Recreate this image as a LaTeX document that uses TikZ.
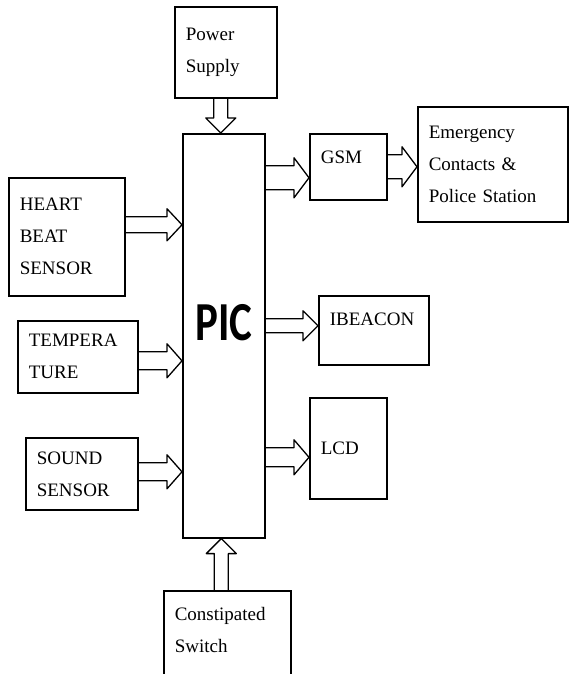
\documentclass[tikz,border=0pt]{standalone}
\usepackage{fontspec}
\setmainfont{Liberation Serif}
\newfontfamily\picfont{Carlito}[FakeStretch=0.78]
\usetikzlibrary{arrows.meta, calc}

\begin{document}
\begin{tikzpicture}[
    x=1pt, y=-1pt,
    block/.style={draw, line width=1.6pt, anchor=north west, align=left,
        inner xsep=11pt, inner ysep=0pt, font=\fontsize{19}{32}\selectfont},
    hollow/.style={line width=1.3pt, line join=round, to path={
        ($(\tikztostart)!#1!90:(\tikztotarget)$)
        -- ($(\tikztotarget)!15pt!(\tikztostart)!#1!-90:(\tikztostart)$)
        -- ($(\tikztotarget)!15pt!(\tikztostart)!#1+8pt!-90:(\tikztostart)$)
        -- (\tikztotarget)
        -- ($(\tikztotarget)!15pt!(\tikztostart)!#1+8pt!90:(\tikztostart)$)
        -- ($(\tikztotarget)!15pt!(\tikztostart)!#1!90:(\tikztostart)$)
        -- ($(\tikztostart)!#1!-90:(\tikztotarget)$)}},
    hollow/.default=8pt,
]
\useasboundingbox (0,0) rectangle (568,674);

% controller in the middle
\node[block, minimum width=82pt, minimum height=404pt, text width=60pt, align=center,
    font=\picfont\bfseries\fontsize{55}{55}\selectfont, text depth=26pt] (pic) at (182,133) {PIC};

% inputs
\node[block, text width=80pt, minimum height=91pt] (power) at (174,6) {Power\\Supply};
\node[block, text width=94pt, minimum height=118pt] (heart) at (8,177) {HEART\\BEAT\\SENSOR};
\node[block, text width=98pt, minimum height=72pt] (temp) at (17,320) {TEMPERA\\TURE};
\node[block, text width=90pt, minimum height=72pt] (sound) at (25,437) {SOUND\\SENSOR};
\node[block, text width=105pt, minimum height=92pt, text depth=46pt] (switch) at (163,590) {Constipated\\Switch};

% outputs
\node[block, text width=55pt, minimum height=66pt, text depth=20pt] (gsm) at (309,133) {GSM};
\node[block, text width=128pt, minimum height=115pt] (emerg) at (417,106) {Emergency\\Contacts \&\\Police Station};
\node[block, text width=88pt, minimum height=69pt, text depth=22pt] (ibeacon) at (318,295) {IBEACON};
\node[block, text width=55pt, minimum height=101pt] (lcd) at (309,397) {LCD};

% hollow arrows
\draw[hollow=7pt] ([xshift=-5pt]power.south) to ([xshift=-5pt]power.south |- pic.north);
\draw[hollow=8pt] ([yshift=12pt]heart.east) to ([yshift=12pt]heart.east -| pic.west);
\draw[hollow=9pt] ([yshift=-4pt]temp.east) to ([yshift=-4pt]temp.east -| pic.west);
\draw[hollow=9pt] ([yshift=2pt]sound.east) to ([yshift=2pt]sound.east -| pic.west);
\draw[hollow=7pt] ([xshift=-6pt]switch.north) to ([xshift=-6pt]switch.north |- pic.south);
\draw[hollow=12pt] ([yshift=-11pt]gsm.west -| pic.east) to ([yshift=-11pt]gsm.west);
\draw[hollow=12pt] (gsm.east) to (gsm.east -| emerg.west);
\draw[hollow=7pt] ([yshift=4.5pt]ibeacon.west -| pic.east) to ([yshift=4.5pt]ibeacon.west);
\draw[hollow=9.5pt] ([yshift=-9pt]lcd.west -| pic.east) to ([yshift=-9pt]lcd.west);

\end{tikzpicture}
\end{document}
